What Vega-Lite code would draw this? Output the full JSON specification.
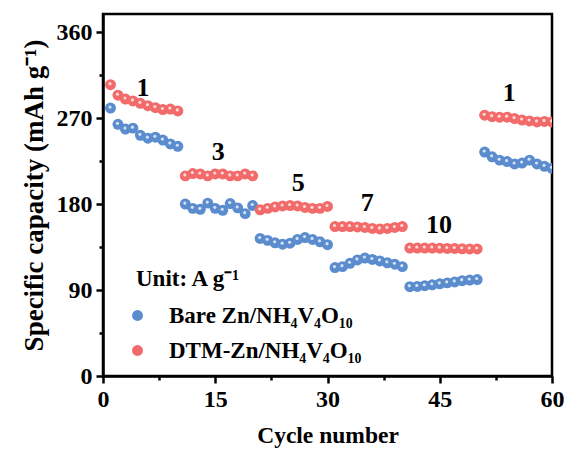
{
  "$schema": "https://vega.github.io/schema/vega-lite/v6.json",
  "width": 449,
  "height": 362,
  "autosize": {"type": "none"},
  "padding": {"left": 103, "top": 14, "right": 16, "bottom": 76},
  "background": "white",
  "config": {
    "view": {"stroke": "black", "strokeWidth": 2.5},
    "font": "Liberation Serif",
    "axis": {
      "domainColor": "black",
      "domainWidth": 2.5,
      "tickColor": "black",
      "tickWidth": 2.5,
      "grid": false,
      "labelFont": "Liberation Serif",
      "labelFontWeight": "bold",
      "labelFontSize": 24,
      "labelColor": "black",
      "titleFont": "Liberation Serif",
      "titleFontWeight": "bold",
      "titleColor": "black"
    }
  },
  "datasets": {
    "cycling": [
      {"cycle": 1, "capacity": 280.5, "electrode": "Bare Zn/NH₄V₄O₁₀"},
      {"cycle": 2, "capacity": 263.5, "electrode": "Bare Zn/NH₄V₄O₁₀"},
      {"cycle": 3, "capacity": 258.5, "electrode": "Bare Zn/NH₄V₄O₁₀"},
      {"cycle": 4, "capacity": 259.5, "electrode": "Bare Zn/NH₄V₄O₁₀"},
      {"cycle": 5, "capacity": 252, "electrode": "Bare Zn/NH₄V₄O₁₀"},
      {"cycle": 6, "capacity": 249, "electrode": "Bare Zn/NH₄V₄O₁₀"},
      {"cycle": 7, "capacity": 250, "electrode": "Bare Zn/NH₄V₄O₁₀"},
      {"cycle": 8, "capacity": 247, "electrode": "Bare Zn/NH₄V₄O₁₀"},
      {"cycle": 9, "capacity": 243, "electrode": "Bare Zn/NH₄V₄O₁₀"},
      {"cycle": 10, "capacity": 240.5, "electrode": "Bare Zn/NH₄V₄O₁₀"},
      {"cycle": 11, "capacity": 180, "electrode": "Bare Zn/NH₄V₄O₁₀"},
      {"cycle": 12, "capacity": 175.5, "electrode": "Bare Zn/NH₄V₄O₁₀"},
      {"cycle": 13, "capacity": 174.5, "electrode": "Bare Zn/NH₄V₄O₁₀"},
      {"cycle": 14, "capacity": 181, "electrode": "Bare Zn/NH₄V₄O₁₀"},
      {"cycle": 15, "capacity": 175.5, "electrode": "Bare Zn/NH₄V₄O₁₀"},
      {"cycle": 16, "capacity": 173.5, "electrode": "Bare Zn/NH₄V₄O₁₀"},
      {"cycle": 17, "capacity": 180.5, "electrode": "Bare Zn/NH₄V₄O₁₀"},
      {"cycle": 18, "capacity": 176, "electrode": "Bare Zn/NH₄V₄O₁₀"},
      {"cycle": 19, "capacity": 170, "electrode": "Bare Zn/NH₄V₄O₁₀"},
      {"cycle": 20, "capacity": 178.5, "electrode": "Bare Zn/NH₄V₄O₁₀"},
      {"cycle": 21, "capacity": 144, "electrode": "Bare Zn/NH₄V₄O₁₀"},
      {"cycle": 22, "capacity": 142, "electrode": "Bare Zn/NH₄V₄O₁₀"},
      {"cycle": 23, "capacity": 139.5, "electrode": "Bare Zn/NH₄V₄O₁₀"},
      {"cycle": 24, "capacity": 138, "electrode": "Bare Zn/NH₄V₄O₁₀"},
      {"cycle": 25, "capacity": 139, "electrode": "Bare Zn/NH₄V₄O₁₀"},
      {"cycle": 26, "capacity": 143, "electrode": "Bare Zn/NH₄V₄O₁₀"},
      {"cycle": 27, "capacity": 145, "electrode": "Bare Zn/NH₄V₄O₁₀"},
      {"cycle": 28, "capacity": 143, "electrode": "Bare Zn/NH₄V₄O₁₀"},
      {"cycle": 29, "capacity": 140.5, "electrode": "Bare Zn/NH₄V₄O₁₀"},
      {"cycle": 30, "capacity": 137.5, "electrode": "Bare Zn/NH₄V₄O₁₀"},
      {"cycle": 31, "capacity": 113.5, "electrode": "Bare Zn/NH₄V₄O₁₀"},
      {"cycle": 32, "capacity": 114.5, "electrode": "Bare Zn/NH₄V₄O₁₀"},
      {"cycle": 33, "capacity": 118, "electrode": "Bare Zn/NH₄V₄O₁₀"},
      {"cycle": 34, "capacity": 121.5, "electrode": "Bare Zn/NH₄V₄O₁₀"},
      {"cycle": 35, "capacity": 123.5, "electrode": "Bare Zn/NH₄V₄O₁₀"},
      {"cycle": 36, "capacity": 122, "electrode": "Bare Zn/NH₄V₄O₁₀"},
      {"cycle": 37, "capacity": 120.5, "electrode": "Bare Zn/NH₄V₄O₁₀"},
      {"cycle": 38, "capacity": 118.5, "electrode": "Bare Zn/NH₄V₄O₁₀"},
      {"cycle": 39, "capacity": 117, "electrode": "Bare Zn/NH₄V₄O₁₀"},
      {"cycle": 40, "capacity": 114.5, "electrode": "Bare Zn/NH₄V₄O₁₀"},
      {"cycle": 41, "capacity": 93.5, "electrode": "Bare Zn/NH₄V₄O₁₀"},
      {"cycle": 42, "capacity": 93.8, "electrode": "Bare Zn/NH₄V₄O₁₀"},
      {"cycle": 43, "capacity": 94.5, "electrode": "Bare Zn/NH₄V₄O₁₀"},
      {"cycle": 44, "capacity": 95.5, "electrode": "Bare Zn/NH₄V₄O₁₀"},
      {"cycle": 45, "capacity": 96.5, "electrode": "Bare Zn/NH₄V₄O₁₀"},
      {"cycle": 46, "capacity": 97.5, "electrode": "Bare Zn/NH₄V₄O₁₀"},
      {"cycle": 47, "capacity": 98.5, "electrode": "Bare Zn/NH₄V₄O₁₀"},
      {"cycle": 48, "capacity": 99.8, "electrode": "Bare Zn/NH₄V₄O₁₀"},
      {"cycle": 49, "capacity": 100.5, "electrode": "Bare Zn/NH₄V₄O₁₀"},
      {"cycle": 50, "capacity": 101, "electrode": "Bare Zn/NH₄V₄O₁₀"},
      {"cycle": 51, "capacity": 234.5, "electrode": "Bare Zn/NH₄V₄O₁₀"},
      {"cycle": 52, "capacity": 229.5, "electrode": "Bare Zn/NH₄V₄O₁₀"},
      {"cycle": 53, "capacity": 226, "electrode": "Bare Zn/NH₄V₄O₁₀"},
      {"cycle": 54, "capacity": 224.5, "electrode": "Bare Zn/NH₄V₄O₁₀"},
      {"cycle": 55, "capacity": 222, "electrode": "Bare Zn/NH₄V₄O₁₀"},
      {"cycle": 56, "capacity": 223, "electrode": "Bare Zn/NH₄V₄O₁₀"},
      {"cycle": 57, "capacity": 226, "electrode": "Bare Zn/NH₄V₄O₁₀"},
      {"cycle": 58, "capacity": 222, "electrode": "Bare Zn/NH₄V₄O₁₀"},
      {"cycle": 59, "capacity": 219.5, "electrode": "Bare Zn/NH₄V₄O₁₀"},
      {"cycle": 60, "capacity": 217.5, "electrode": "Bare Zn/NH₄V₄O₁₀"},
      {"cycle": 1, "capacity": 305, "electrode": "DTM-Zn/NH₄V₄O₁₀"},
      {"cycle": 2, "capacity": 294, "electrode": "DTM-Zn/NH₄V₄O₁₀"},
      {"cycle": 3, "capacity": 290, "electrode": "DTM-Zn/NH₄V₄O₁₀"},
      {"cycle": 4, "capacity": 288, "electrode": "DTM-Zn/NH₄V₄O₁₀"},
      {"cycle": 5, "capacity": 285.5, "electrode": "DTM-Zn/NH₄V₄O₁₀"},
      {"cycle": 6, "capacity": 283, "electrode": "DTM-Zn/NH₄V₄O₁₀"},
      {"cycle": 7, "capacity": 281, "electrode": "DTM-Zn/NH₄V₄O₁₀"},
      {"cycle": 8, "capacity": 279, "electrode": "DTM-Zn/NH₄V₄O₁₀"},
      {"cycle": 9, "capacity": 279.5, "electrode": "DTM-Zn/NH₄V₄O₁₀"},
      {"cycle": 10, "capacity": 277.5, "electrode": "DTM-Zn/NH₄V₄O₁₀"},
      {"cycle": 11, "capacity": 209.5, "electrode": "DTM-Zn/NH₄V₄O₁₀"},
      {"cycle": 12, "capacity": 212, "electrode": "DTM-Zn/NH₄V₄O₁₀"},
      {"cycle": 13, "capacity": 211.5, "electrode": "DTM-Zn/NH₄V₄O₁₀"},
      {"cycle": 14, "capacity": 209.5, "electrode": "DTM-Zn/NH₄V₄O₁₀"},
      {"cycle": 15, "capacity": 211.5, "electrode": "DTM-Zn/NH₄V₄O₁₀"},
      {"cycle": 16, "capacity": 211.5, "electrode": "DTM-Zn/NH₄V₄O₁₀"},
      {"cycle": 17, "capacity": 209.5, "electrode": "DTM-Zn/NH₄V₄O₁₀"},
      {"cycle": 18, "capacity": 209.5, "electrode": "DTM-Zn/NH₄V₄O₁₀"},
      {"cycle": 19, "capacity": 211.5, "electrode": "DTM-Zn/NH₄V₄O₁₀"},
      {"cycle": 20, "capacity": 209.5, "electrode": "DTM-Zn/NH₄V₄O₁₀"},
      {"cycle": 21, "capacity": 174, "electrode": "DTM-Zn/NH₄V₄O₁₀"},
      {"cycle": 22, "capacity": 175.5, "electrode": "DTM-Zn/NH₄V₄O₁₀"},
      {"cycle": 23, "capacity": 177, "electrode": "DTM-Zn/NH₄V₄O₁₀"},
      {"cycle": 24, "capacity": 178, "electrode": "DTM-Zn/NH₄V₄O₁₀"},
      {"cycle": 25, "capacity": 178.5, "electrode": "DTM-Zn/NH₄V₄O₁₀"},
      {"cycle": 26, "capacity": 178, "electrode": "DTM-Zn/NH₄V₄O₁₀"},
      {"cycle": 27, "capacity": 176.5, "electrode": "DTM-Zn/NH₄V₄O₁₀"},
      {"cycle": 28, "capacity": 175.5, "electrode": "DTM-Zn/NH₄V₄O₁₀"},
      {"cycle": 29, "capacity": 175.5, "electrode": "DTM-Zn/NH₄V₄O₁₀"},
      {"cycle": 30, "capacity": 177.5, "electrode": "DTM-Zn/NH₄V₄O₁₀"},
      {"cycle": 31, "capacity": 156.5, "electrode": "DTM-Zn/NH₄V₄O₁₀"},
      {"cycle": 32, "capacity": 156.5, "electrode": "DTM-Zn/NH₄V₄O₁₀"},
      {"cycle": 33, "capacity": 156.5, "electrode": "DTM-Zn/NH₄V₄O₁₀"},
      {"cycle": 34, "capacity": 156, "electrode": "DTM-Zn/NH₄V₄O₁₀"},
      {"cycle": 35, "capacity": 155.5, "electrode": "DTM-Zn/NH₄V₄O₁₀"},
      {"cycle": 36, "capacity": 154.5, "electrode": "DTM-Zn/NH₄V₄O₁₀"},
      {"cycle": 37, "capacity": 154, "electrode": "DTM-Zn/NH₄V₄O₁₀"},
      {"cycle": 38, "capacity": 154.5, "electrode": "DTM-Zn/NH₄V₄O₁₀"},
      {"cycle": 39, "capacity": 155.5, "electrode": "DTM-Zn/NH₄V₄O₁₀"},
      {"cycle": 40, "capacity": 156.5, "electrode": "DTM-Zn/NH₄V₄O₁₀"},
      {"cycle": 41, "capacity": 134, "electrode": "DTM-Zn/NH₄V₄O₁₀"},
      {"cycle": 42, "capacity": 134, "electrode": "DTM-Zn/NH₄V₄O₁₀"},
      {"cycle": 43, "capacity": 134, "electrode": "DTM-Zn/NH₄V₄O₁₀"},
      {"cycle": 44, "capacity": 134, "electrode": "DTM-Zn/NH₄V₄O₁₀"},
      {"cycle": 45, "capacity": 133.8, "electrode": "DTM-Zn/NH₄V₄O₁₀"},
      {"cycle": 46, "capacity": 133.5, "electrode": "DTM-Zn/NH₄V₄O₁₀"},
      {"cycle": 47, "capacity": 133.5, "electrode": "DTM-Zn/NH₄V₄O₁₀"},
      {"cycle": 48, "capacity": 133.2, "electrode": "DTM-Zn/NH₄V₄O₁₀"},
      {"cycle": 49, "capacity": 133, "electrode": "DTM-Zn/NH₄V₄O₁₀"},
      {"cycle": 50, "capacity": 133, "electrode": "DTM-Zn/NH₄V₄O₁₀"},
      {"cycle": 51, "capacity": 273, "electrode": "DTM-Zn/NH₄V₄O₁₀"},
      {"cycle": 52, "capacity": 271.5, "electrode": "DTM-Zn/NH₄V₄O₁₀"},
      {"cycle": 53, "capacity": 271, "electrode": "DTM-Zn/NH₄V₄O₁₀"},
      {"cycle": 54, "capacity": 271, "electrode": "DTM-Zn/NH₄V₄O₁₀"},
      {"cycle": 55, "capacity": 269.5, "electrode": "DTM-Zn/NH₄V₄O₁₀"},
      {"cycle": 56, "capacity": 268, "electrode": "DTM-Zn/NH₄V₄O₁₀"},
      {"cycle": 57, "capacity": 267, "electrode": "DTM-Zn/NH₄V₄O₁₀"},
      {"cycle": 58, "capacity": 266, "electrode": "DTM-Zn/NH₄V₄O₁₀"},
      {"cycle": 59, "capacity": 266.5, "electrode": "DTM-Zn/NH₄V₄O₁₀"},
      {"cycle": 60, "capacity": 266, "electrode": "DTM-Zn/NH₄V₄O₁₀"}
    ],
    "rates": [
      {"cycle": 5.35, "capacity": 301.5, "rate": "1"},
      {"cycle": 15.4, "capacity": 234.5, "rate": "3"},
      {"cycle": 26.1, "capacity": 202, "rate": "5"},
      {"cycle": 35.3, "capacity": 181, "rate": "7"},
      {"cycle": 44.9, "capacity": 158.3, "rate": "10"},
      {"cycle": 54.3, "capacity": 296.4, "rate": "1"}
    ]
  },
  "layer": [
    {
      "data": {"name": "cycling"},
      "mark": {"type": "point", "shape": "circle", "filled": true, "opacity": 1, "size": 120, "clip": true},
      "encoding": {
        "x": {
          "field": "cycle",
          "type": "quantitative",
          "scale": {"domain": [0, 60], "nice": false},
          "axis": {
            "title": "Cycle number",
            "titleFontSize": 23.5,
            "titlePadding": 12,
            "values": [0, 7.5, 15, 22.5, 30, 37.5, 45, 52.5, 60],
            "labelExpr": "datum.value % 15 === 0 ? datum.label : ''",
            "labelPadding": 4,
            "labelFlush": false,
            "tickSize": {"condition": {"test": "datum.value % 15 === 0", "value": 7}, "value": 4}
          }
        },
        "y": {
          "field": "capacity",
          "type": "quantitative",
          "scale": {"domain": [0, 379], "nice": false},
          "axis": {
            "title": "Specific capacity (mAh g⁻¹)",
            "titleFontSize": 27,
            "titlePadding": 8,
            "values": [0, 45, 90, 135, 180, 225, 270, 315, 360],
            "labelExpr": "datum.value % 90 === 0 ? datum.label : ''",
            "labelPadding": 4,
            "labelFlush": false,
            "tickSize": {"condition": {"test": "datum.value % 90 === 0", "value": 7}, "value": 4}
          }
        },
        "color": {
          "field": "electrode",
          "type": "nominal",
          "scale": {
            "domain": ["Bare Zn/NH₄V₄O₁₀", "DTM-Zn/NH₄V₄O₁₀"],
            "range": ["#5a8cce", "#f26a6a"]
          },
          "legend": {
            "orient": "none",
            "legendX": 33,
            "legendY": 254,
            "title": "Unit: A g⁻¹",
            "titleFont": "Liberation Serif",
            "titleFontWeight": "bold",
            "titleFontSize": 23,
            "titleColor": "black",
            "titlePadding": 13,
            "titleLimit": 400,
            "labelFont": "Liberation Serif",
            "labelFontWeight": "bold",
            "labelFontSize": 23,
            "labelColor": "black",
            "labelLimit": 400,
            "labelOffset": 20,
            "symbolOffset": -10,
            "rowPadding": 11,
            "symbolType": "circle",
            "symbolSize": 120,
            "symbolStrokeWidth": 0
          }
        }
      }
    },
    {
      "data": {"name": "cycling"},
      "mark": {"type": "point", "shape": "circle", "filled": true, "color": "white", "opacity": 0.75, "size": 10, "xOffset": -0.5, "yOffset": -1, "clip": true},
      "encoding": {
        "x": {"field": "cycle", "type": "quantitative"},
        "y": {"field": "capacity", "type": "quantitative"}
      }
    },
    {
      "data": {"name": "rates"},
      "mark": {"type": "text", "font": "Liberation Serif", "fontWeight": "bold", "fontSize": 26, "color": "black", "align": "center", "baseline": "middle"},
      "encoding": {
        "x": {"field": "cycle", "type": "quantitative"},
        "y": {"field": "capacity", "type": "quantitative"},
        "text": {"field": "rate"}
      }
    }
  ]
}
